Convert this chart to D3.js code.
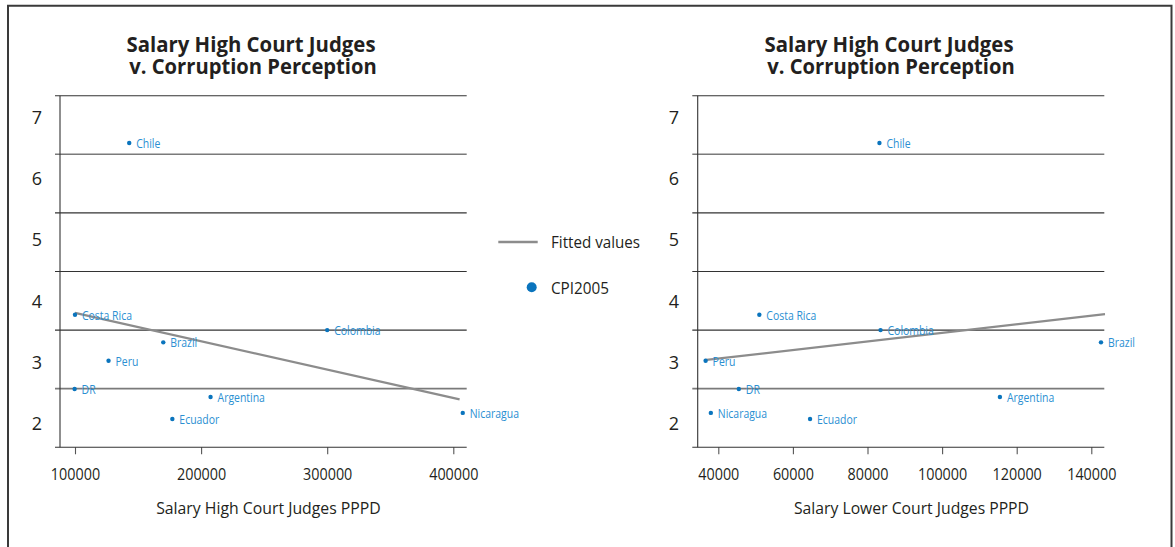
<!DOCTYPE html>
<html><head><meta charset="utf-8">
<script src="https://cdn.jsdelivr.net/npm/d3@7"></script>
<style>
body{margin:0;background:#fff}
svg{display:block}
text{font-family:"Open Sans","Noto Sans","DejaVu Sans",sans-serif;fill:#231f20}
</style>
</head><body>
<svg id="c" width="1175" height="547"></svg>
<script>
// ---- data ----
const countries   = ["Chile","Costa Rica","Colombia","Brazil","Peru","DR","Argentina","Ecuador","Nicaragua"];
const cpi2005     = [6.57, 3.77, 3.52, 3.32, 3.02, 2.56, 2.43, 2.07, 2.17];
const salaryHigh  = [143000, 100000, 300000, 170000, 126600, 99700, 207500, 177200, 407500];
const salaryLower = [83200, 51000, 83500, 142600, 36600, 45500, 115500, 64600, 38000];
const fitHighX  = [100000, 405000];
const fitHighY  = [3.80, 2.39];
const fitLowerX = [36250, 143670];
const fitLowerY = [3.03, 3.78];
const xTicksHigh  = [100000, 200000, 300000, 400000];
const xTicksLower = [40000, 60000, 80000, 100000, 120000, 140000];
const yTicks = [2, 3, 4, 5, 6, 7];
const gridValues = [7.342, 6.387, 5.431, 4.476, 3.520, 2.565];
const yBottom = 1.609;
const titleLines = ["Salary High Court Judges", "v. Corruption Perception"];
const xTitles = ["Salary High Court Judges PPPD", "Salary Lower Court Judges PPPD"];
const legendLabels = ["Fitted values", "CPI2005"];

const svg = d3.select("#c");
const dotColor = "#0a74bd", labColor = "#2b8fd2", fitColor = "#8c8c8c";

function condense(sel, f) {
  sel.each(function () {
    const w = this.getComputedTextLength();
    d3.select(this).attr("textLength", w * f).attr("lengthAdjust", "spacingAndGlyphs");
  });
}
function fitWidth(sel, w) {
  sel.attr("textLength", w).attr("lengthAdjust", "spacingAndGlyphs");
}

// frame
svg.append("path").attr("d", "M8,548V5.7H1171.5V548")
  .attr("fill", "none").attr("stroke", "#3a3a3a").attr("stroke-width", 2);

const y = d3.scaleLinear().domain([2, 7]).range([423.3, 116.7]);

const panels = [
  { xs: salaryHigh, fitX: fitHighX, fitY: fitHighY, ticks: xTicksHigh,
    dom: [100000, 400000], rng: [75, 453.3], gx0: 55, gx1: 466.7, ax: 60, ylx: 37,
    tcx: 251, xtcx: 268.5, xtw: 224.7, xtitle: xTitles[0] },
  { xs: salaryLower, fitX: fitLowerX, fitY: fitLowerY, ticks: xTicksLower,
    dom: [40000, 140000], rng: [718.3, 1091.3], gx0: 692.3, gx1: 1104.3, ax: 697.7, ylx: 674,
    tcx: 889, xtcx: 911.5, xtw: 235, xtitle: xTitles[1] }
];

panels.forEach(p => {
  const x = d3.scaleLinear().domain(p.dom).range(p.rng);
  const g = svg.append("g");

  // gridlines
  g.selectAll("line.grid").data(gridValues).join("line")
    .attr("x1", p.gx0).attr("x2", p.gx1)
    .attr("y1", d => y(d)).attr("y2", d => y(d))
    .attr("stroke", (d, i) => (i === 1 || i === 5) ? "#7a7a7a" : "#333")
    .attr("stroke-width", (d, i) => (i === 1 || i === 5) ? 1.6 : 1.1);

  // y axis line
  g.append("line").attr("x1", p.ax).attr("x2", p.ax)
    .attr("y1", y(gridValues[0])).attr("y2", y(yBottom))
    .attr("stroke", "#333").attr("stroke-width", 1.1);

  // x axis
  const xa = g.append("g").attr("transform", `translate(0,${y(yBottom)})`)
    .call(d3.axisBottom(x).tickValues(p.ticks).tickFormat(d3.format("d")).tickSize(7).tickPadding(14));
  xa.select(".domain").remove();
  xa.append("line").attr("x1", p.gx0).attr("x2", p.gx1).attr("stroke", "#333").attr("stroke-width", 1.1);
  xa.selectAll(".tick line").attr("stroke", "#555").attr("stroke-width", 1.1);
  xa.selectAll(".tick text").attr("font-size", 16.5).attr("fill", "#231f20")
    .style("font-family", '"Open Sans",sans-serif');
  condense(xa.selectAll(".tick text"), 0.87);

  // y tick labels
  g.selectAll("text.yl").data(yTicks).join("text")
    .attr("x", p.ylx).attr("y", d => y(d)).attr("text-anchor", "middle")
    .attr("dominant-baseline", "central").attr("font-size", 18).text(d => d);

  // fitted line
  g.append("line")
    .attr("x1", x(p.fitX[0])).attr("y1", y(p.fitY[0]))
    .attr("x2", x(p.fitX[1])).attr("y2", y(p.fitY[1]))
    .attr("stroke", fitColor).attr("stroke-width", 2.2);

  // points + labels
  const idx = d3.range(countries.length);
  g.selectAll("circle.pt").data(idx).join("circle")
    .attr("cx", i => x(p.xs[i])).attr("cy", i => y(cpi2005[i])).attr("r", 2.2).attr("fill", dotColor);
  const labs = g.selectAll("text.pl").data(idx).join("text")
    .attr("x", i => x(p.xs[i]) + 7).attr("y", i => y(cpi2005[i]) + 0.5)
    .attr("dominant-baseline", "central").attr("font-size", 12)
    .style("fill", labColor).text(i => countries[i]);
  condense(labs, 0.87);

  // title
  const t1 = g.append("text").attr("x", p.tcx).attr("y", 52).attr("text-anchor", "middle")
    .attr("font-size", 21).attr("font-weight", 700).text(titleLines[0]);
  fitWidth(t1, 249);
  const t2 = g.append("text").attr("x", p.tcx + 2).attr("y", 74).attr("text-anchor", "middle")
    .attr("font-size", 21).attr("font-weight", 700).text(titleLines[1]);
  fitWidth(t2, 247.5);

  // x title
  const xt = g.append("text").attr("x", p.xtcx).attr("y", 514).attr("text-anchor", "middle")
    .attr("font-size", 17).text(p.xtitle);
  fitWidth(xt, p.xtw);
});

// legend
const lg = svg.append("g");
lg.append("line").attr("x1", 498.3).attr("x2", 537.7).attr("y1", 242).attr("y2", 242)
  .attr("stroke", fitColor).attr("stroke-width", 2.4);
lg.append("circle").attr("cx", 531.7).attr("cy", 287.3).attr("r", 5).attr("fill", dotColor);
const lt = lg.selectAll("text.lg").data(legendLabels).join("text")
  .attr("x", 551).attr("y", (d, i) => i === 0 ? 241.5 : 287.5)
  .attr("dominant-baseline", "central").attr("font-size", 16).text(d => d);
fitWidth(d3.select(lt.nodes()[0]), 89);
fitWidth(d3.select(lt.nodes()[1]), 58);
</script>
</body></html>
